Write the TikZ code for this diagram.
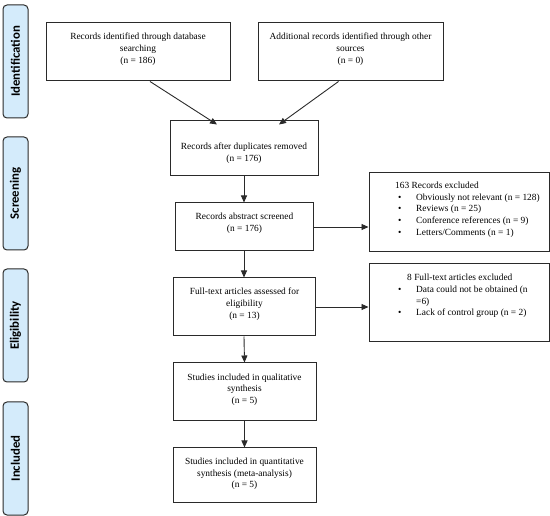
\documentclass[tikz,border=0pt]{standalone}
\usepackage{fontspec}
\setmainfont{Liberation Serif}
\newfontfamily\sidefont{Carlito}
\usetikzlibrary{arrows.meta,calc}
\definecolor{sideblue}{HTML}{D4EBFB}
\definecolor{lineclr}{HTML}{2A2A2A}
\begin{document}
\begin{tikzpicture}[x=1pt,y=-1pt,
  box/.style={draw=lineclr,line width=1pt,inner sep=0pt,rectangle},
  txt/.style={inner sep=0pt,align=center,font=\fontsize{9.4}{11.7}\selectfont},
  ltxt/.style={inner sep=0pt,align=left,anchor=west,font=\fontsize{9.4}{11.7}\selectfont},
  side/.style={draw=lineclr,line width=1pt,fill=sideblue,rounded corners=4pt,inner sep=0pt,minimum width=25pt,minimum height=113pt},
  sidetxt/.style={rotate=90,inner sep=0pt,font=\sidefont\bfseries\fontsize{12.8}{14}\selectfont},
  arr/.style={draw=lineclr,line width=0.9pt,-{Triangle[length=7pt,width=6pt]}}]
\useasboundingbox (0,0) rectangle (550,516);
% side labels
\node[side] (s1) at (15.5,61.5) {};
\node[sidetxt] (s1t) at (s1.center) {Identification};
\node[side] (s2) at (15.5,193.5) {};
\node[sidetxt] (s2t) at (s2.center) {Screening};
\node[side] (s3) at (15.5,325.5) {};
\node[sidetxt] (s3t) at (s3.center) {Eligibility};
\node[side] (s4) at (15.5,458.5) {};
\node[sidetxt] (s4t) at (s4.center) {Included};
% boxes
\node[box,minimum width=184pt,minimum height=58pt] (b1) at (138,52) {};
\node[txt] (b1t) at (138,49) {Records identified through database\\searching\\(n = 186)};
\node[box,minimum width=185pt,minimum height=58pt] (b2) at (350.5,52) {};
\node[txt] (b2t) at (350.5,49) {Additional records identified through other\\sources\\(n = 0)};
\node[box,minimum width=148pt,minimum height=55pt] (b3) at (244,148.5) {};
\node[txt] (b3t) at (244,153.5) {Records after duplicates removed\\(n = 176)};
\node[box,minimum width=138pt,minimum height=48pt] (b4) at (244,227) {};
\node[txt] (b4t) at (244.5,223) {Records abstract screened\\(n = 176)};
\node[box,minimum width=142pt,minimum height=58pt] (b5) at (244,307) {};
\node[txt] (b5t) at (244.5,304) {Full-text articles assessed for\\eligibility\\(n = 13)};
\node[box,minimum width=143pt,minimum height=58pt] (b6) at (244.5,392) {};
\node[txt] (b6t) at (244.5,389.5) {Studies included in qualitative\\synthesis\\(n = 5)};
\node[box,minimum width=143pt,minimum height=54pt] (b7) at (244.5,475) {};
\node[txt] (b7t) at (244.5,474) {Studies included in quantitative\\synthesis (meta-analysis)\\(n = 5)};
% exclusion boxes
\node[box,minimum width=180pt,minimum height=79pt] (e1) at (459,212.5) {};
\node[ltxt] (e1t) at (395,209.5) {163 Records excluded\\
\hspace*{3pt}\makebox[18pt][l]{•}Obviously not relevant (n = 128)\\
\hspace*{3pt}\makebox[18pt][l]{•}Reviews (n = 25)\\
\hspace*{3pt}\makebox[18pt][l]{•}Conference references (n = 9)\\
\hspace*{3pt}\makebox[18pt][l]{•}Letters/Comments (n = 1)};
\node[box,minimum width=180pt,minimum height=78pt] (e2) at (459,303) {};
\node[ltxt] (e2t) at (398,296) {\hspace*{9pt}8 Full-text articles excluded\\
\hspace*{0pt}\makebox[18pt][l]{•}Data could not be obtained (n\\
\hspace*{18pt}=6)\\
\hspace*{0pt}\makebox[18pt][l]{•}Lack of control group (n = 2)};
% connectors
\draw[arr] ([xshift=12pt]b1.south) -- ([xshift=-27pt,yshift=-4pt]b3.north);
\draw[arr] ([xshift=-12pt]b2.south) -- ([xshift=35pt,yshift=-4pt]b3.north);
\draw[arr] (b3.south) -- (b4.north);
\draw[arr] (b4.south) -- (b5.north);
\draw[arr] (b5.south) -- (b6.north);
\draw[arr] (b6.south) -- (b7.north);
\draw[arr] (b4.east) -- (b4.east -| e1.west);
\draw[arr] (b5.east) -- (b5.east -| e2.west);
\end{tikzpicture}
\end{document}
